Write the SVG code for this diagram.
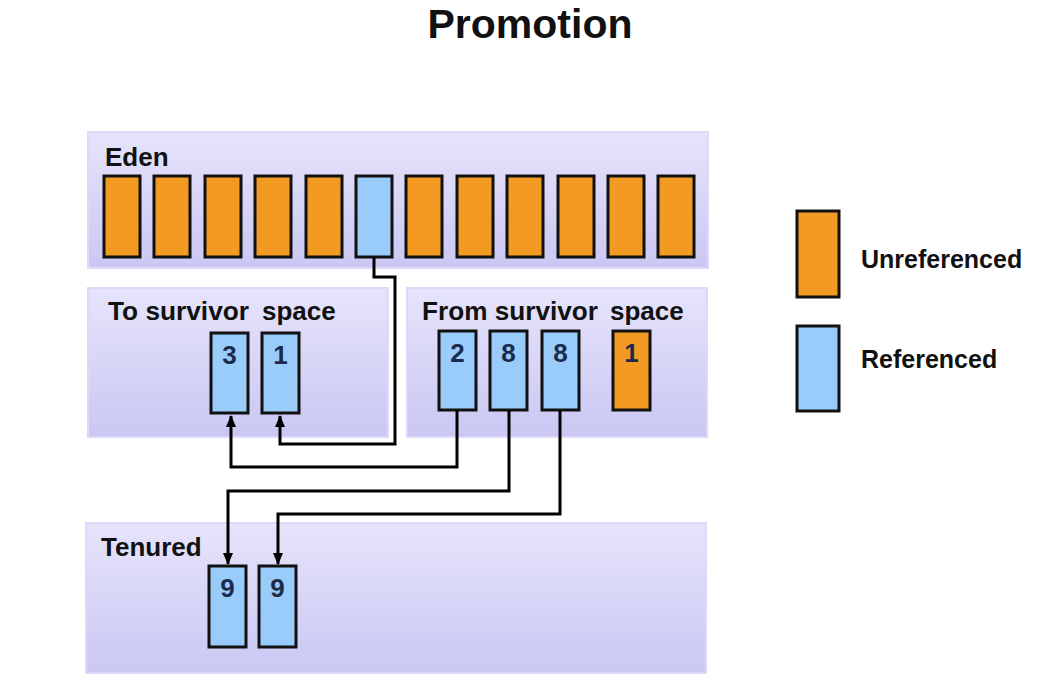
<svg xmlns="http://www.w3.org/2000/svg" width="1057" height="689" viewBox="0 0 1057 689">
<defs>
<linearGradient id="pg" x1="0" y1="0" x2="0" y2="1">
<stop offset="0" stop-color="#e6e4fb"/>
<stop offset="1" stop-color="#cac7f3"/>
</linearGradient>
<marker id="ah" markerUnits="userSpaceOnUse" markerWidth="12" markerHeight="12" viewBox="0 0 12 12" refX="11" refY="6" orient="auto">
<path d="M0,1 L12,6 L0,11 Z" fill="#000"/>
</marker>
<style>
.panel{fill:url(#pg);stroke:#dcdaf8;stroke-width:2}
.or{fill:#f39a22;stroke:#111;stroke-width:3}
.bl{fill:#99cbfb;stroke:#111;stroke-width:3}
.lbl{font-family:"Liberation Sans",Arial,sans-serif;font-weight:bold;font-size:26px;fill:#111}
.leg{font-family:"Liberation Sans",Arial,sans-serif;font-weight:bold;font-size:25px;fill:#111}
.num{font-family:"Liberation Sans",Arial,sans-serif;font-weight:bold;font-size:26px;fill:#1b2b4b;text-anchor:middle}
.conn{fill:none;stroke:#000;stroke-width:3}
</style>
</defs>
<rect width="1057" height="689" fill="#fff"/>
<text x="530" y="38" text-anchor="middle" font-family="Liberation Sans, Arial, sans-serif" font-weight="bold" font-size="41" fill="#111">Promotion</text>

<g id="eden">
<rect class="panel" x="88" y="132" width="620" height="136"/>
<text class="lbl" x="105" y="166">Eden</text>
<rect class="or" x="104" y="176" width="36" height="81"/>
<rect class="or" x="154" y="176" width="36" height="81"/>
<rect class="or" x="205" y="176" width="36" height="81"/>
<rect class="or" x="255" y="176" width="36" height="81"/>
<rect class="or" x="306" y="176" width="36" height="81"/>
<rect class="bl" x="356" y="176" width="36" height="81"/>
<rect class="or" x="406" y="176" width="36" height="81"/>
<rect class="or" x="457" y="176" width="36" height="81"/>
<rect class="or" x="507" y="176" width="36" height="81"/>
<rect class="or" x="558" y="176" width="36" height="81"/>
<rect class="or" x="608" y="176" width="36" height="81"/>
<rect class="or" x="658" y="176" width="36" height="81"/>
</g>

<g id="to-survivor">
<rect class="panel" x="88" y="288" width="300" height="149"/>
<text class="lbl" x="108" y="320"><tspan textLength="141" lengthAdjust="spacingAndGlyphs">To survivor</tspan><tspan x="262">space</tspan></text>
<rect class="bl" x="211" y="333" width="37" height="80"/>
<text class="num" x="229.5" y="364">3</text>
<rect class="bl" x="262" y="333" width="37" height="80"/>
<text class="num" x="280.5" y="364">1</text>
</g>

<g id="from-survivor">
<rect class="panel" x="407" y="288" width="300" height="149"/>
<text class="lbl" x="422" y="320"><tspan textLength="176" lengthAdjust="spacingAndGlyphs">From survivor</tspan><tspan x="610">space</tspan></text>
<rect class="bl" x="439" y="331" width="37" height="79"/>
<text class="num" x="457.5" y="362">2</text>
<rect class="bl" x="490" y="331" width="37" height="79"/>
<text class="num" x="508.5" y="362">8</text>
<rect class="bl" x="542" y="331" width="37" height="79"/>
<text class="num" x="560.5" y="362">8</text>
<rect class="or" x="613" y="331" width="37" height="79"/>
<text class="num" x="631.5" y="362">1</text>
</g>

<g id="tenured">
<rect class="panel" x="86" y="523" width="620" height="150"/>
<text class="lbl" x="101" y="556">Tenured</text>
<rect class="bl" x="209" y="566" width="37" height="81"/>
<text class="num" x="227.5" y="597">9</text>
<rect class="bl" x="259" y="566" width="37" height="81"/>
<text class="num" x="277.5" y="597">9</text>
</g>

<g id="legend">
<rect class="or" x="797" y="211" width="42" height="86"/>
<text class="leg" x="861" y="268">Unreferenced</text>
<rect class="bl" x="797" y="326" width="42" height="85"/>
<text class="leg" x="861" y="368">Referenced</text>
</g>

<g id="connectors">
<path class="conn" d="M374,257 V277 H395 V444 H280 V416" marker-end="url(#ah)"/>
<path class="conn" d="M457,410 V467 H231 V416" marker-end="url(#ah)"/>
<path class="conn" d="M509,410 V491 H228 V564" marker-end="url(#ah)"/>
<path class="conn" d="M560,410 V514 H278 V564" marker-end="url(#ah)"/>
</g>
</svg>
